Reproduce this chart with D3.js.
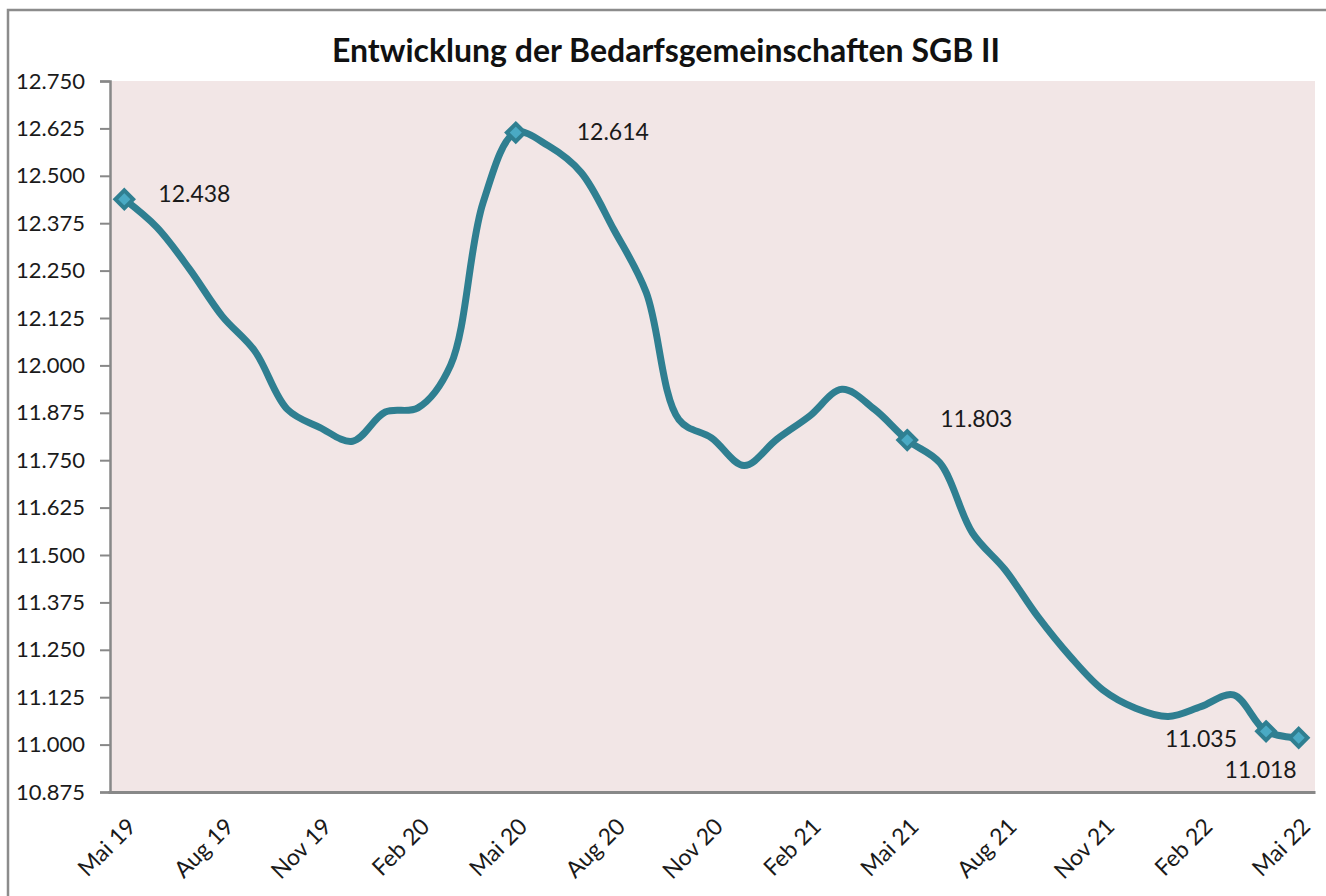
<!DOCTYPE html>
<html>
<head>
<meta charset="utf-8">
<script src="https://cdn.jsdelivr.net/npm/d3@7"></script>
<style>
  body { margin: 0; background: #fff; }
  svg { display: block; font-family: Lato, "Open Sans", sans-serif; }
</style>
</head>
<body>
<svg width="1326" height="896"></svg>
<script>
var title = "Entwicklung der Bedarfsgemeinschaften SGB II";

// Monate Mai 19 .. Mai 22
var months = ["Mai 19","Jun 19","Jul 19","Aug 19","Sep 19","Okt 19","Nov 19","Dez 19",
  "Jan 20","Feb 20","Mär 20","Apr 20","Mai 20","Jun 20","Jul 20","Aug 20","Sep 20","Okt 20","Nov 20","Dez 20",
  "Jan 21","Feb 21","Mär 21","Apr 21","Mai 21","Jun 21","Jul 21","Aug 21","Sep 21","Okt 21","Nov 21","Dez 21",
  "Jan 22","Feb 22","Mär 22","Apr 22","Mai 22"];

var values = [12438, 12364, 12254, 12130, 12038, 11884, 11836, 11800,
  11877, 11888, 12000, 12430, 12614, 12579, 12509, 12359, 12192, 11857, 11809, 11736,
  11805, 11866, 11937, 11884, 11803, 11743, 11558, 11461, 11338, 11232, 11144, 11096,
  11074, 11100, 11131, 11035, 11018];

var shownLabels = ["Mai 19","Aug 19","Nov 19","Feb 20","Mai 20","Aug 20","Nov 20",
  "Feb 21","Mai 21","Aug 21","Nov 21","Feb 22","Mai 22"];

var markedMonths = ["Mai 19","Mai 20","Mai 21","Apr 22","Mai 22"];

var yTicks = [10875, 11000, 11125, 11250, 11375, 11500, 11625, 11750, 11875,
  12000, 12125, 12250, 12375, 12500, 12625, 12750];

// placement of the data labels (layout only)
var labelPlacement = {
  "Mai 19": {dx: 34, dy: 3, anchor: "start"},
  "Mai 20": {dx: 61, dy: 7, anchor: "start"},
  "Mai 21": {dx: 33, dy: -13, anchor: "start"},
  "Apr 22": {dx: -29, dy: 16, anchor: "end"},
  "Mai 22": {dx: -2, dy: 40, anchor: "end"}
};

var de = d3.formatLocale({decimal: ",", thousands: ".", grouping: [3], currency: ["", " €"]});
var fmt = de.format(",d");

var svg = d3.select("svg");
var plotLeft = 108, plotRight = 1315, plotTop = 81, plotBottom = 792;

var data = months.map(function(m, i){ return {month: m, value: values[i]}; });

var x = d3.scaleBand().domain(months).range([plotLeft, plotRight]);
var y = d3.scaleLinear().domain([10875, 12750]).range([plotBottom, plotTop]);
var cx = function(m){ return x(m) + x.bandwidth() / 2; };

// outer frame
svg.append("rect")
    .attr("x", 8).attr("y", 10).attr("width", 1330).attr("height", 900)
    .attr("fill", "none").attr("stroke", "#8c8c8c").attr("stroke-width", 2.5);

// plot area
svg.append("rect")
    .attr("x", plotLeft + 2).attr("y", plotTop)
    .attr("width", plotRight - plotLeft - 2).attr("height", plotBottom - plotTop)
    .attr("fill", "#f2e6e6");

svg.append("text")
    .attr("x", 666).attr("y", 62)
    .attr("text-anchor", "middle")
    .attr("font-size", 32).attr("font-weight", "bold")
    .attr("fill", "#111")
    .text(title);

// y axis
var yAxis = svg.append("g")
    .attr("transform", "translate(" + (plotLeft + 2) + ",0)")
    .call(d3.axisLeft(y).tickValues(yTicks).tickFormat(fmt).tickSize(10).tickPadding(15));
yAxis.attr("font-family", "Lato, sans-serif");
yAxis.select(".domain").attr("stroke", "#888").attr("stroke-width", 2.5);
yAxis.selectAll(".tick line").attr("stroke", "#888").attr("stroke-width", 2);
yAxis.selectAll(".tick text")
    .attr("font-size", 22).attr("fill", "#1a1a1a");

// x axis
var xAxis = svg.append("g")
    .attr("transform", "translate(0," + plotBottom + ")")
    .call(d3.axisBottom(x).tickValues(shownLabels).tickSize(0).tickPadding(0));
xAxis.attr("font-family", "Lato, sans-serif");
xAxis.select(".domain").attr("stroke", "#888").attr("stroke-width", 3);
xAxis.selectAll(".tick text")
    .attr("font-size", 23).attr("fill", "#1a1a1a")
    .attr("text-anchor", "end")
    .attr("dy", 0)
    .attr("transform", "translate(13,36) rotate(-45)");

// line
var line = d3.line()
    .x(function(d){ return cx(d.month); })
    .y(function(d){ return y(d.value); })
    .curve(d3.curveCatmullRom.alpha(0.5));

svg.append("path")
    .datum(data)
    .attr("d", line)
    .attr("fill", "none")
    .attr("stroke", "#2f7f91")
    .attr("stroke-width", 7)
    .attr("stroke-linejoin", "round");

var marked = data.filter(function(d){ return markedMonths.indexOf(d.month) >= 0; });

svg.selectAll(".marker")
    .data(marked)
    .enter().append("path")
    .attr("class", "marker")
    .attr("d", d3.symbol().type(d3.symbolDiamond2).size(200))
    .attr("transform", function(d){ return "translate(" + cx(d.month) + "," + y(d.value) + ")"; })
    .attr("fill", "#4aaac4")
    .attr("stroke", "#2f7f91")
    .attr("stroke-width", 4);

svg.selectAll(".dlabel")
    .data(marked)
    .enter().append("text")
    .attr("class", "dlabel")
    .attr("x", function(d){ return cx(d.month) + labelPlacement[d.month].dx; })
    .attr("y", function(d){ return y(d.value) + labelPlacement[d.month].dy; })
    .attr("text-anchor", function(d){ return labelPlacement[d.month].anchor; })
    .attr("font-size", 23).attr("fill", "#1a1a1a")
    .text(function(d){ return fmt(d.value); });
</script>
</body>
</html>
